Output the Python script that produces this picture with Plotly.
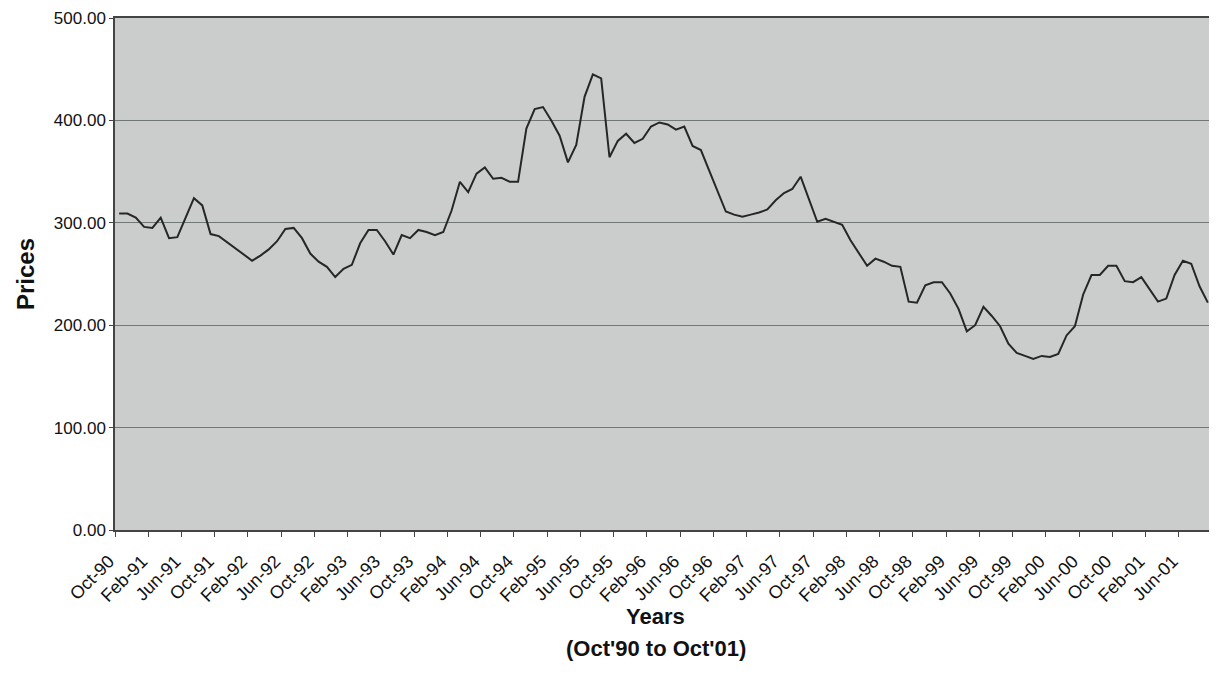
import pandas as pd
import plotly.graph_objects as go

# Monthly prices, Oct-90 .. Sep-01
prices = [
    309, 309, 305, 296, 295, 305, 285, 286, 305, 324,
    317, 289, 287, 281, 275, 269, 263, 268, 274, 282,
    294, 295, 285, 270, 262, 257, 247, 255, 259, 280,
    293, 293, 282, 269, 288, 285, 293, 291, 288, 291,
    312, 340, 330, 348, 354, 343, 344, 340, 340, 392,
    411, 413, 400, 385, 359, 376, 423, 445, 441, 364,
    380, 387, 378, 382, 394, 398, 396, 391, 394, 375,
    371, 351, 330, 311, 308, 306, 308, 310, 313, 322,
    329, 333, 345, 323, 301, 304, 301, 298, 283, 270,
    258, 265, 262, 258, 257, 223, 222, 239, 242, 242,
    231, 216, 194, 200, 218, 209, 199, 182, 173, 170,
    167, 170, 169, 172, 190, 199, 230, 249, 249, 258,
    258, 243, 242, 247, 235, 223, 226, 249, 263, 260,
    238, 222,
]

months = pd.date_range("1990-10-01", periods=len(prices), freq="MS").strftime("%b-%y").tolist()
label_step = 4
tick_labels = months[::label_step]          # Oct-90, Feb-91, ... Jun-01
y_ticks = [0, 100, 200, 300, 400, 500]

x_idx = list(range(len(prices)))
# Excel-style category axis: ticks sit on the category boundaries
tick_pos = [p - 0.5 for p in x_idx[::label_step]] + [len(prices) - 0.5]
tick_text = tick_labels + [""]

FONT = "Liberation Sans, Arial, sans-serif"

fig = go.Figure()
fig.add_trace(go.Scatter(
    x=x_idx, y=prices, mode="lines",
    line=dict(color="#262626", width=2),
    showlegend=False, hoverinfo="skip",
))

# the page body has an 8px margin, so the figure is sized 8px smaller
fig.update_layout(
    width=1209, height=670,
    margin=dict(l=107, r=5, t=10, b=148),
    paper_bgcolor="white",
    plot_bgcolor="#cbcdcd",
    font=dict(family=FONT, color="#111111", size=16),
    xaxis=dict(
        range=[-0.5, len(prices) - 0.5], automargin=False,
        tickmode="array", tickvals=tick_pos, ticktext=tick_text,
        tickangle=-45, tickfont=dict(size=18, family=FONT),
        ticklabelstandoff=7, ticklabelshift=-6,
        ticks="outside", ticklen=5, tickcolor="#444444",
        showgrid=False, zeroline=False,
        showline=True, linecolor="#444444", linewidth=1.5, mirror=True,
    ),
    yaxis=dict(
        range=[0, 500], automargin=False,
        tickmode="array", tickvals=y_ticks,
        tickformat=".2f", tickfont=dict(size=17, family=FONT),
        ticks="outside", ticklen=4, tickcolor="#444444",
        showgrid=True, gridcolor="#727777", gridwidth=1,
        zeroline=False,
        showline=True, linecolor="#444444", linewidth=1.5, mirror=True,
        title=dict(text="<b>Prices</b>", font=dict(size=24, family=FONT), standoff=12),
    ),
)

fig.add_annotation(
    text="<b>Years</b>", xref="paper", yref="paper",
    x=0.493, y=-0.168, xanchor="center", yanchor="middle",
    showarrow=False, font=dict(size=22, family=FONT, color="#111111"),
)
fig.add_annotation(
    text="<b>(Oct'90 to Oct'01)</b>", xref="paper", yref="paper",
    x=0.493, y=-0.232, xanchor="center", yanchor="middle",
    showarrow=False, font=dict(size=22, family=FONT, color="#111111"),
)

fig.write_html("out.html")
